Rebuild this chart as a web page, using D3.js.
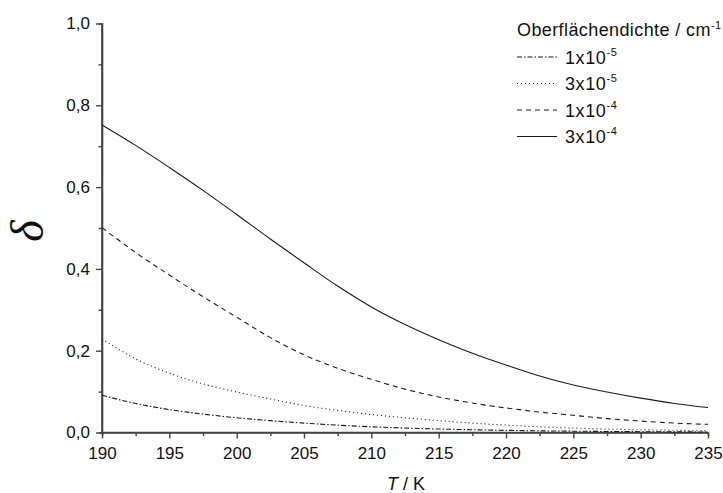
<!DOCTYPE html>
<html>
<head>
<meta charset="utf-8">
<script src="https://cdn.jsdelivr.net/npm/d3@7"></script>
<style>
  html, body { margin: 0; padding: 0; background: #fff; }
  svg { display: block; }
  text { font-family: "Liberation Sans", Arial, sans-serif; fill: #111; }
</style>
</head>
<body>
<svg id="chart" width="723" height="493"></svg>
<script>
// Temperature grid (K)
const temperature = [190, 192.5, 195, 197.5, 200, 202.5, 205, 207.5, 210, 212.5, 215, 217.5, 220, 222.5, 225, 227.5, 230, 232.5, 235];

// δ for each surface density
const delta_1e5 = [0.091, 0.071, 0.056, 0.045, 0.036, 0.029, 0.023, 0.018, 0.014, 0.011, 0.0085, 0.0067, 0.0052, 0.0041, 0.0032, 0.0025, 0.0020, 0.0016, 0.0013];
const delta_3e5 = [0.229, 0.180, 0.145, 0.119, 0.099, 0.082, 0.066, 0.054, 0.044, 0.036, 0.029, 0.023, 0.018, 0.014, 0.011, 0.0085, 0.0067, 0.0055, 0.0045];
const delta_1e4 = [0.501, 0.440, 0.385, 0.332, 0.282, 0.232, 0.190, 0.157, 0.130, 0.106, 0.087, 0.072, 0.060, 0.050, 0.042, 0.034, 0.028, 0.023, 0.020];
const delta_3e4 = [0.752, 0.702, 0.648, 0.592, 0.533, 0.473, 0.415, 0.358, 0.307, 0.264, 0.227, 0.194, 0.165, 0.138, 0.116, 0.099, 0.084, 0.071, 0.061];

const seriesNames = ["1x10", "3x10", "1x10", "3x10"];
const seriesExponents = ["-5", "-5", "-4", "-4"];
const seriesDash = ["5,2,1.5,2", "1,3", "5,4", null];

const xTicks = [190, 195, 200, 205, 210, 215, 220, 225, 230, 235];
const yTicks = [0, 0.2, 0.4, 0.6, 0.8, 1.0];

const series = [delta_1e5, delta_3e5, delta_1e4, delta_3e4];

const svg = d3.select("#chart");
const x = d3.scaleLinear().domain([190, 235]).range([102, 708]);
const y = d3.scaleLinear().domain([0, 1]).range([432.5, 23.5]);

const axisColor = "#444";
const de = d3.formatLocale({decimal: ",", thousands: ".", grouping: [3], currency: ["", "€"]});
const fmt = de.format(".1f");

// minor ticks halfway between the labelled ones
const xMinor = d3.range(192.5, 235, 5);
const yMinor = d3.range(0.1, 1.0, 0.2);

const gx = svg.append("g").attr("transform", `translate(0,${y(0)})`);
gx.call(d3.axisBottom(x).tickValues(xTicks).tickSize(6).tickPadding(8).tickFormat(d3.format("d")));
gx.append("g").call(d3.axisBottom(x).tickValues(xMinor).tickSize(3.5).tickFormat(""));

const gy = svg.append("g").attr("transform", `translate(${x(190)},0)`);
gy.call(d3.axisLeft(y).tickValues(yTicks).tickSize(6).tickPadding(6).tickFormat(fmt));
gy.append("g").call(d3.axisLeft(y).tickValues(yMinor).tickSize(3.5).tickFormat(""));

svg.selectAll(".domain").attr("stroke", axisColor).attr("stroke-width", 1.6);
svg.selectAll(".tick line").attr("stroke", axisColor).attr("stroke-width", 1.4);
svg.selectAll(".tick text").attr("font-size", 17).attr("fill", "#111")
  .attr("font-family", "'Liberation Sans', Arial, sans-serif");
// plain axis lines without the outer end caps
gx.select(".domain").attr("d", `M${x(190)},0H${x(235)}`);
gy.select(".domain").attr("d", `M0,${y(1)}V${y(0)}`);

// curves
const line = d3.line()
  .x((d, i) => x(temperature[i]))
  .y(d => y(d))
  .curve(d3.curveMonotoneX);

series.forEach((vals, k) => {
  svg.append("path")
    .attr("d", line(vals))
    .attr("fill", "none")
    .attr("stroke", "#1a1a1a")
    .attr("stroke-width", 1.1)
    .attr("stroke-dasharray", seriesDash[k]);
});

// axis titles
svg.append("text")
  .attr("transform", `translate(43,231) rotate(-90)`)
  .attr("text-anchor", "middle")
  .attr("font-style", "italic")
  .attr("font-size", 46)
  .style("font-family", "'Liberation Serif', 'DejaVu Serif', serif")
  .text("δ");

const xt = svg.append("text")
  .attr("x", 406).attr("y", 490)
  .attr("text-anchor", "middle")
  .attr("font-size", 18);
xt.append("tspan").attr("font-style", "italic").text("T");
xt.append("tspan").text(" / K");

// legend
const legendX = 517;
const title = svg.append("text").attr("x", legendX).attr("y", 36)
  .attr("font-size", 18).attr("letter-spacing", 0.4);
title.append("tspan").text("Oberflächendichte / cm");
title.append("tspan").attr("dy", -7).attr("font-size", 11).text("-1");

const rowY = [57, 83.5, 110, 136.5];
series.forEach((vals, k) => {
  svg.append("line")
    .attr("x1", legendX).attr("x2", legendX + 40)
    .attr("y1", rowY[k]).attr("y2", rowY[k])
    .attr("stroke", "#1a1a1a").attr("stroke-width", 1.1)
    .attr("stroke-dasharray", seriesDash[k]);
  const t = svg.append("text").attr("x", 565).attr("y", rowY[k] + 6.5)
    .attr("font-size", 18).attr("letter-spacing", 0.6);
  t.append("tspan").text(seriesNames[k]);
  t.append("tspan").attr("dy", -8).attr("font-size", 11).text(seriesExponents[k]);
});
</script>
</body>
</html>
